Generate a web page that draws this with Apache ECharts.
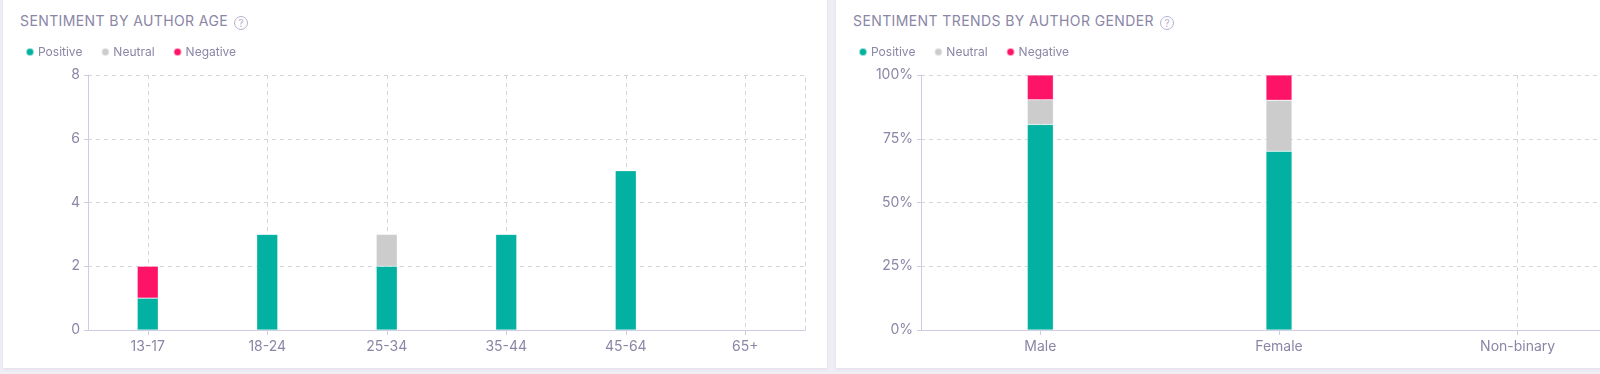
<!DOCTYPE html>
<html>
<head>
<meta charset="utf-8">
<script src="https://cdn.jsdelivr.net/npm/echarts@6/dist/echarts.min.js"></script>
<style>
  html, body { margin: 0; padding: 0; width: 1600px; height: 374px; overflow: hidden; background: #efeef5; font-family: Inter, "Noto Sans", sans-serif; }
  .card { position: absolute; background: #ffffff; box-shadow: 0 1px 3px rgba(120,110,160,0.12); }
  .title { position: absolute; font-size: 14px; letter-spacing: 0.4px; color: #8a86a6; font-weight: 400; line-height: 16px; white-space: nowrap; }
  .help { display: inline-block; width: 12px; height: 12px; border: 1.3px solid #b7b2cf; border-radius: 50%; color: #b7b2cf; font-size: 10px; line-height: 12px; text-align: center; letter-spacing: 0; margin-left: 6px; vertical-align: -1px; }
  #chart { position: absolute; left: 0; top: 0; width: 1600px; height: 374px; }
</style>
</head>
<body>
<div class="card" style="left:3px; top:-10px; width:824px; height:378px;"></div>
<div class="card" style="left:836px; top:-10px; width:800px; height:378px;"></div>
<div class="title" style="left:20px; top:13px;">SENTIMENT BY AUTHOR AGE<span class="help">?</span></div>
<div class="title" style="left:853px; top:13px;">SENTIMENT TRENDS BY AUTHOR GENDER<span class="help">?</span></div>
<div id="chart"></div>
<script>
// ---- data ----
const seriesNames = ['Positive', 'Neutral', 'Negative'];
const seriesColors = ['#02b1a1', '#cccccc', '#fd1466'];

const ageCategories = ['13-17', '18-24', '25-34', '35-44', '45-64', '65+'];
const agePositive = [1, 3, 2, 3, 5, 0];
const ageNeutral  = [0, 0, 1, 0, 0, 0];
const ageNegative = [1, 0, 0, 0, 0, 0];
const ageTicks = [0, 2, 4, 6, 8];

const genderCategories = ['Male', 'Female', 'Non-binary'];
const genderPositive = [80.6, 70.1, 0];
const genderNeutral  = [9.7, 20.0, 0];
const genderNegative = [9.7, 9.9, 0];
const genderTicks = [0, 25, 50, 75, 100];

// ---- styling ----
const textColor = '#8a86a6';
const axisColor = '#cfcbe2';
const gridColor = '#d6d6d6';
const fontFamily = 'Inter, "Noto Sans", sans-serif';

const chart = echarts.init(document.getElementById('chart'), null, { renderer: 'canvas' });

function xAxisFor(gridIndex, data) {
  return {
    type: 'category', gridIndex: gridIndex, data: data,
    axisLine: { show: true, lineStyle: { color: axisColor, width: 1 } },
    axisTick: { show: true, alignWithLabel: true, length: 5, lineStyle: { color: axisColor } },
    axisLabel: { color: textColor, fontSize: 14, fontFamily: fontFamily, margin: 10 },
    splitLine: { show: true, alignWithLabel: true, lineStyle: { color: gridColor, type: [4, 4], width: 1 } }
  };
}
function yAxisFor(gridIndex, ticks, fmt) {
  return {
    type: 'value', gridIndex: gridIndex,
    min: ticks[0], max: ticks[ticks.length - 1], interval: ticks[1] - ticks[0],
    axisLine: { show: true, lineStyle: { color: axisColor, width: 1 } },
    axisTick: { show: true, length: 4, lineStyle: { color: axisColor } },
    axisLabel: { color: textColor, fontSize: 14, fontFamily: fontFamily, margin: 8, formatter: fmt },
    splitLine: { show: true, lineStyle: { color: gridColor, type: [4, 4], width: 1 } }
  };
}

function barSeries(name, idx, xi, data, width) {
  return {
    name: name, type: 'bar', stack: 'g' + xi, xAxisIndex: xi, yAxisIndex: xi,
    data: data.map(v => (v === 0 ? '-' : v)), barWidth: width,
    itemStyle: { color: seriesColors[idx], borderColor: 'rgba(255,255,255,0.6)', borderWidth: 0.5 },
    emphasis: { disabled: true }
  };
}

const legendBase = {
  data: seriesNames, icon: 'circle', itemWidth: 8, itemHeight: 8, itemGap: 18,
  textStyle: { color: textColor, fontSize: 12, fontFamily: fontFamily, padding: [0, 0, 0, -1] },
  top: 41
};

const option = {
  animation: false,
  color: seriesColors,
  legend: [
    Object.assign({}, legendBase, { left: 20 }),
    Object.assign({}, legendBase, { left: 853 })
  ],
  grid: [
    { left: 88, top: 75, width: 717, height: 255, outerBoundsMode: 'none', containLabel: false },
    { left: 921, top: 75, width: 716, height: 255, outerBoundsMode: 'none', containLabel: false }
  ],
  xAxis: [ xAxisFor(0, ageCategories), xAxisFor(1, genderCategories) ],
  yAxis: [
    yAxisFor(0, ageTicks, '{value}'),
    yAxisFor(1, genderTicks, '{value}%'),
    { type: 'value', gridIndex: 0, position: 'right', min: 0, max: 8,
      axisLine: { show: true, lineStyle: { color: gridColor, type: [4, 4] } },
      axisTick: { show: false }, axisLabel: { show: false }, splitLine: { show: false } }
  ],
  series: [
    barSeries('Positive', 0, 0, agePositive, 21),
    barSeries('Neutral', 1, 0, ageNeutral, 21),
    barSeries('Negative', 2, 0, ageNegative, 21),
    barSeries('Positive', 0, 1, genderPositive, 26),
    barSeries('Neutral', 1, 1, genderNeutral, 26),
    barSeries('Negative', 2, 1, genderNegative, 26)
  ]
};
chart.setOption(option);
</script>
</body>
</html>
